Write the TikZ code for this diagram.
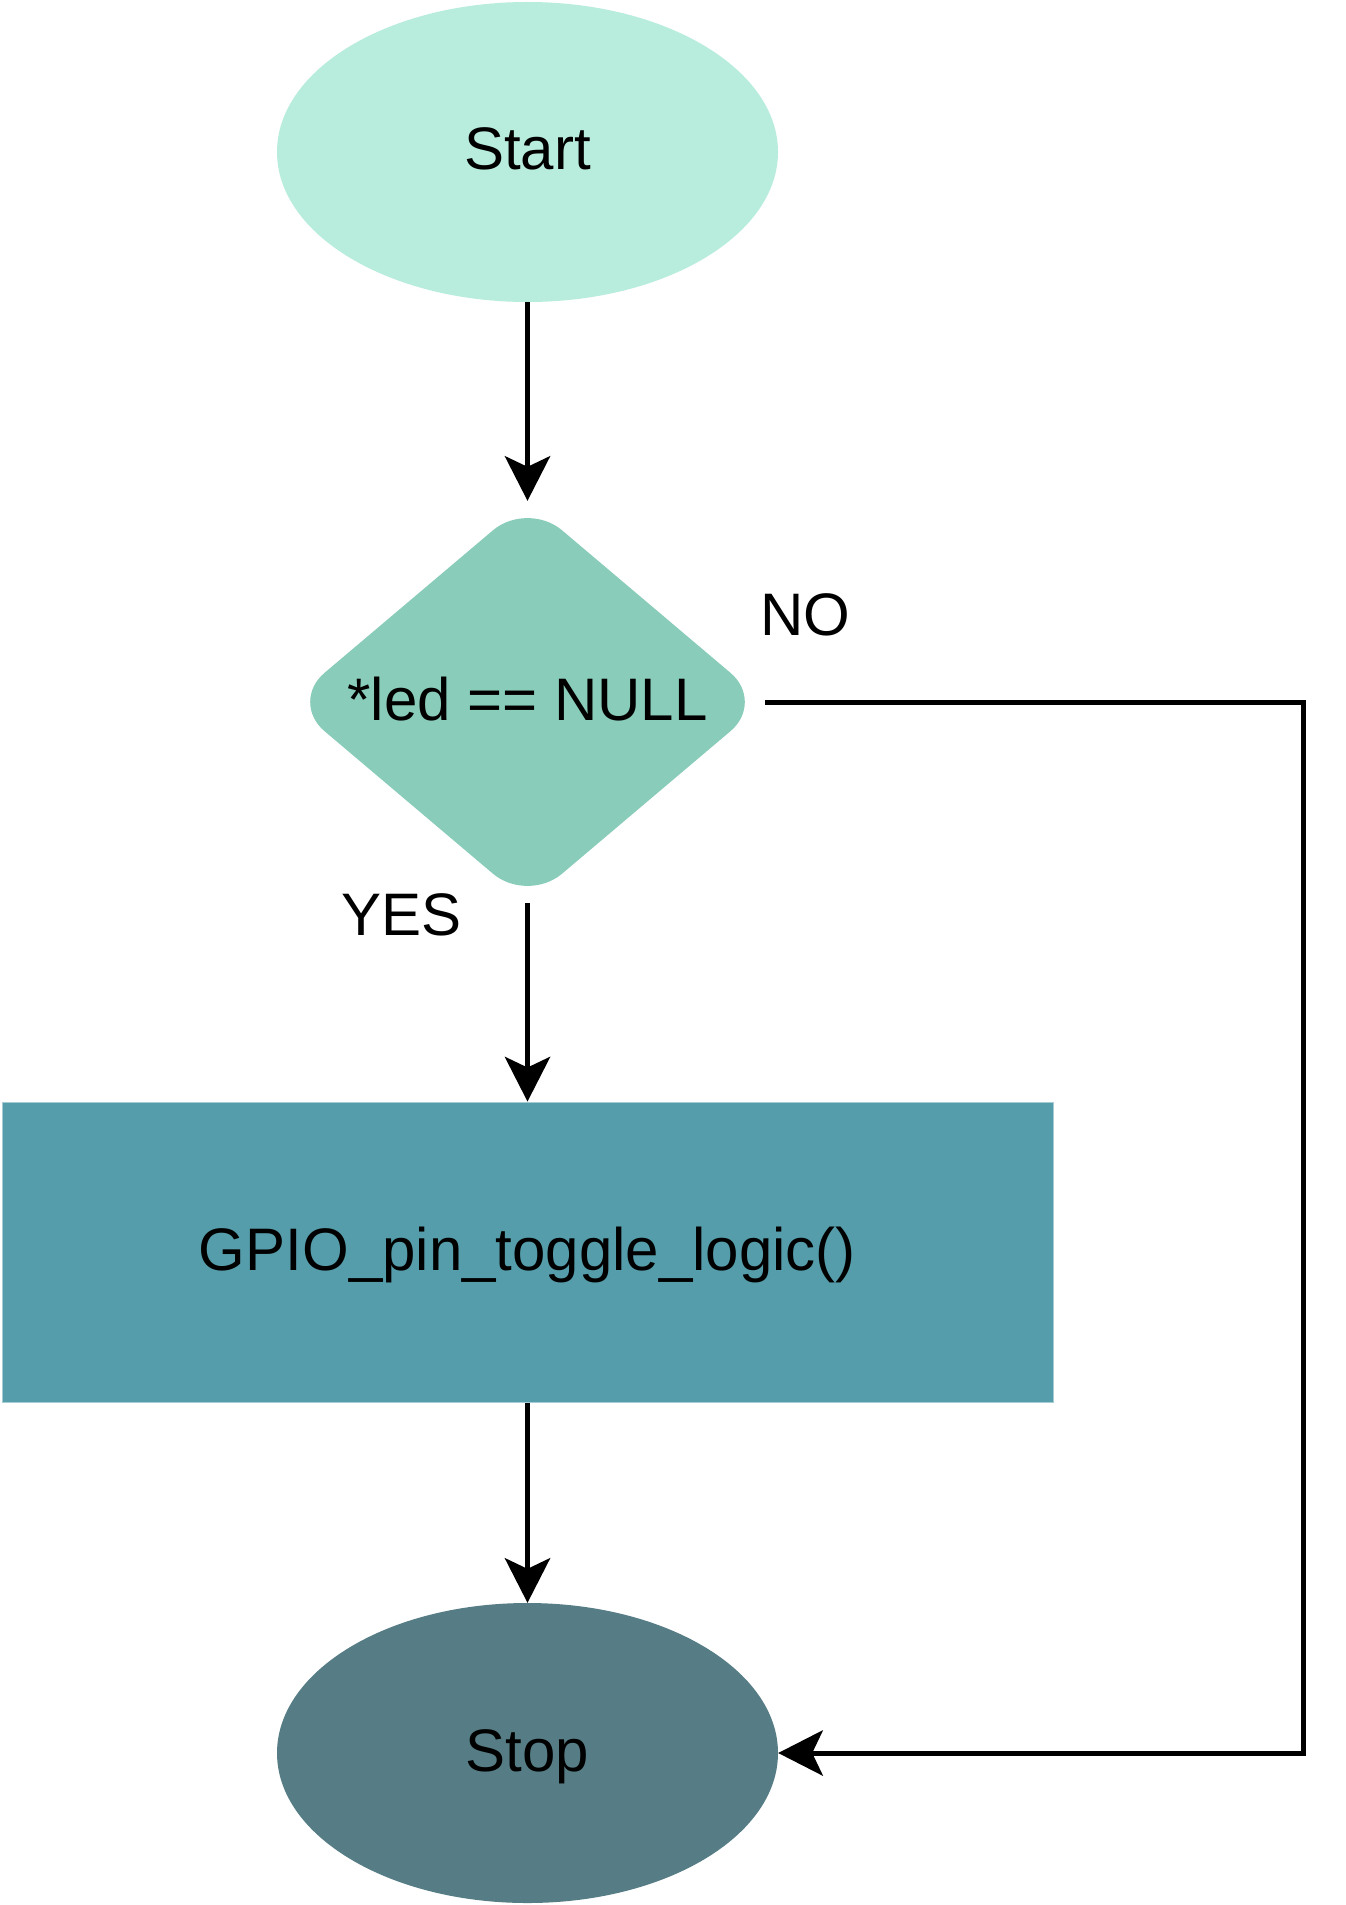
\documentclass[tikz,border=0pt]{standalone}
\usepackage{fontspec}
\setmainfont{Liberation Sans}
\usetikzlibrary{shapes.geometric,arrows.meta}
\definecolor{startfill}{HTML}{B8EDDD}
\definecolor{decfill}{HTML}{88CCB9}
\definecolor{actfill}{HTML}{559DAA}
\definecolor{actline}{HTML}{A6CDD4}
\definecolor{stopfill}{HTML}{567D85}
\tikzset{
  label text/.style={font=\fontsize{60}{72}\selectfont, text height=50pt, text depth=14pt, inner sep=0pt},
  terminal/.style={ellipse, label text, minimum width=501pt, minimum height=300pt},
  decision/.style={diamond, aspect=1.18, label text, minimum width=475pt, minimum height=402pt, rounded corners=45pt},
  process/.style={rectangle, label text, minimum width=1051pt, minimum height=300pt, draw=actline, line width=1pt},
  flow/.style={line width=5pt, -{Stealth[length=45pt,width=46pt,inset=11pt,line width=0pt]}}
}
\begin{document}
\begin{tikzpicture}[x=1pt,y=-1pt]
  \fill[white] (0,0) rectangle (1345,1905);
  \useasboundingbox (0,0) rectangle (1345,1905);

  \node[terminal, fill=startfill] (start) at (527.5,152) {Start};
  \node[decision, fill=decfill] (dec) at (527.5,702) {*led == NULL};
  \node[process, fill=actfill] (act) at (527.5,1252) {GPIO\_pin\_toggle\_logic()};
  \node[terminal, fill=stopfill] (stop) at (527.5,1753) {Stop};

  \node[label text] (no) at (805,617) {NO};
  \node[label text] (yes) at (401.5,917) {YES};

  \draw[flow] (start.south) -- (dec.north);
  \draw[flow] (dec.south) -- (act.north);
  \draw[flow] (act.south) -- (stop.north);
  \draw[flow] (dec.east) -- ++(538,0) |- (stop.east);
\end{tikzpicture}
\end{document}
